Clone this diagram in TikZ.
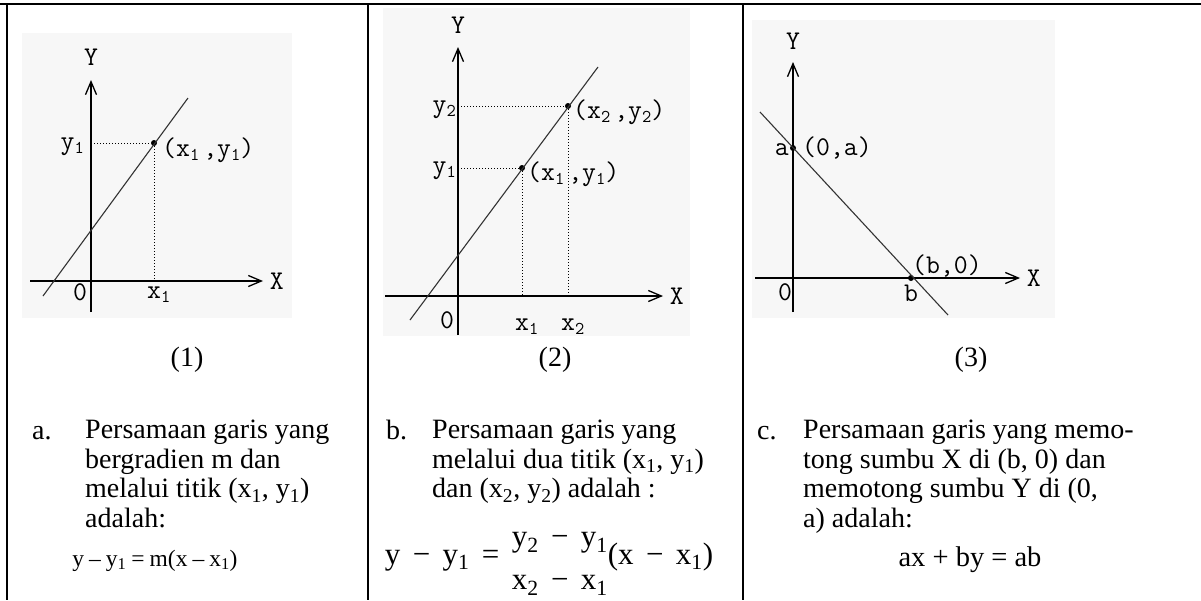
\documentclass[tikz,border=0pt]{standalone}
\usepackage{fontspec}
\setmainfont{Liberation Serif}
\usepackage{amsmath}
\usetikzlibrary{arrows.meta}

% small lowered digit for the plot labels
\newcommand{\gsub}[1]{\raisebox{-4pt}{\fontsize{18}{18}\selectfont #1}}
% spaced operator for the big formula
\newcommand{\eqop}[1]{\hspace{0.4em}#1\hspace{0.4em}}

\begin{document}
\begin{tikzpicture}[x=1pt, y=-1pt,
        axis/.style={line width=1.5pt, -{Straight Barb[length=13pt, width=11pt, line width=1.3pt]}},
        graphline/.style={line width=1.1pt, black!80},
        guide/.style={dotted, line width=1pt},
        dotpt/.style={circle, fill, inner sep=0pt, minimum size=6pt},
        glabel/.style={font=\fontsize{27}{27}\selectfont\ttfamily, inner sep=0pt},
        plotbg/.style={fill=black!3, draw=none},
        rule/.style={line width=2.2pt},
        body/.style={font=\fontsize{28}{29.5}\selectfont, inner sep=0pt, align=left},
        caption/.style={font=\fontsize{28}{29.5}\selectfont, inner sep=0pt}
    ]
        \useasboundingbox (0,0) rectangle (1201,600);

        % table rules
        \draw[rule] (0,4) -- (1201,4);
        \draw[rule] (7,3) -- (7,600);
        \draw[rule] (368,3) -- (368,600);
        \draw[rule] (743,3) -- (743,600);

        % plot backgrounds
        \fill[plotbg] (22,33) rectangle (292,318);
        \fill[plotbg] (383,8) rectangle (690,336);
        \fill[plotbg] (752,20) rectangle (1055,318);

        % ---- plot (1)
        \coordinate (oA) at (91,281);
        \draw[axis] (91,312) -- (91,80) node[glabel, above=14pt] (yA) {Y};
        \draw[axis] (30,281) -- (263,281) node[glabel, right=6pt] (xA) {X};
        \node[dotpt] (p1) at (154,143) {};
        \draw[graphline] (43,296) -- (188,98);
        \draw[guide] (oA |- p1) -- (p1);
        \draw[guide] (p1) -- (p1 |- oA);
        \node[glabel, anchor=base east] (ylA) at (84,149) {y\gsub{1}};
        \node[glabel, anchor=base west] (pl1) at (162,156) {(x\gsub{1}\hspace{4pt},y\gsub{1})};
        \node[glabel, anchor=base] (zA) at (80,300) {0};
        \node[glabel, anchor=base west] (xlA) at (147,298) {x\gsub{1}};

        % ---- plot (2)
        \coordinate (oB) at (458,296);
        \draw[axis] (458,335) -- (458,47) node[glabel, above=13pt] (yB) {Y};
        \draw[axis] (385,296) -- (663,296) node[glabel, right=6pt] (xB) {X};
        \node[dotpt] (q1) at (522,168) {};
        \node[dotpt] (q2) at (568,106) {};
        \draw[graphline] (410,320) -- (598,67);
        \draw[guide] (oB |- q1) -- (q1);
        \draw[guide] (oB |- q2) -- (q2);
        \draw[guide] (q1) -- (q1 |- oB);
        \draw[guide] (q2) -- (q2 |- oB);
        \node[glabel, anchor=base east] (ylB1) at (456,173) {y\gsub{1}};
        \node[glabel, anchor=base east] (ylB2) at (456,112) {y\gsub{2}};
        \node[glabel, anchor=base west] (pl21) at (527,180) {(x\gsub{1}\hspace{4pt},y\gsub{1})};
        \node[glabel, anchor=base west] (pl22) at (573,118) {(x\gsub{2}\hspace{4pt},y\gsub{2})};
        \node[glabel, anchor=base] (zB) at (447,328) {0};
        \node[glabel, anchor=base west] (xlB1) at (515,330) {x\gsub{1}};
        \node[glabel, anchor=base west] (xlB2) at (561,330) {x\gsub{2}};

        % ---- plot (3)
        \coordinate (oC) at (793,278);
        \draw[axis] (793,312) -- (793,62) node[glabel, above=12pt] (yC) {Y};
        \draw[axis] (755,278) -- (1020,278) node[glabel, right=6pt] (xC) {X};
        \node[dotpt] (qa) at (793,148) {};
        \node[dotpt] (qb) at (911,278) {};
        \draw[graphline] (760,112) -- (948,315);
        \node[glabel, anchor=base east] (alC) at (789,155) {a};
        \node[glabel, anchor=base west] (plA) at (802,155) {(0,a)};
        \node[glabel, anchor=base west] (plB) at (912,273) {(b,0)};
        \node[glabel, anchor=base] (zC) at (785,300) {0};
        \node[glabel, anchor=base] (blC) at (911,301) {b};

        % captions
        \node[caption] (cap1) at (187,360) {(1)};
        \node[caption] (cap2) at (555,360) {(2)};
        \node[caption] (cap3) at (971,360) {(3)};

        % column (1) text
        \node[body, anchor=base west] (itemA) at (32,439) {a.};
        \node[body, anchor=north west] (textA) at (85,420) {Persamaan garis yang\\bergradien m dan\\melalui titik (x\textsubscript{1}, y\textsubscript{1})\\adalah:};
        \node[body, font=\fontsize{23.5}{25}\selectfont, anchor=base] (eqA) at (155,566) {y\hspace{5pt}–\hspace{5pt}y\textsubscript{1}\hspace{5pt}=\hspace{5pt}m(x\hspace{5pt}–\hspace{5pt}x\textsubscript{1})};

        % column (2) text
        \node[body, anchor=base west] (itemB) at (386,439) {b.};
        \node[body, anchor=north west] (textB) at (432,420) {Persamaan garis yang\\melalui dua titik (x\textsubscript{1}, y\textsubscript{1})\\dan (x\textsubscript{2}, y\textsubscript{2}) adalah :};
        \node[body, font=\fontsize{31}{31}\selectfont, anchor=base] (eqB) at (549,564) {y\eqop{−}y\textsubscript{1}\eqop{=}\raisebox{-4pt}{$\vcenter{\hbox{\begin{tabular}{@{}c@{}}y\textsubscript{2}\eqop{−}y\textsubscript{1}\\[12pt]x\textsubscript{2}\eqop{−}x\textsubscript{1}\end{tabular}}}$}(x\eqop{−}x\textsubscript{1})};

        % column (3) text
        \node[body, anchor=base west] (itemC) at (757,439) {c.};
        \node[body, anchor=north west] (textC) at (803,420) {Persamaan garis yang memo-\\tong sumbu X di (b, 0) dan\\memotong sumbu Y di (0,\\a) adalah:};
        \node[body, font=\fontsize{28.5}{30}\selectfont, anchor=base] (eqC) at (970,566) {ax + by = ab};
    \end{tikzpicture}
\end{document}
